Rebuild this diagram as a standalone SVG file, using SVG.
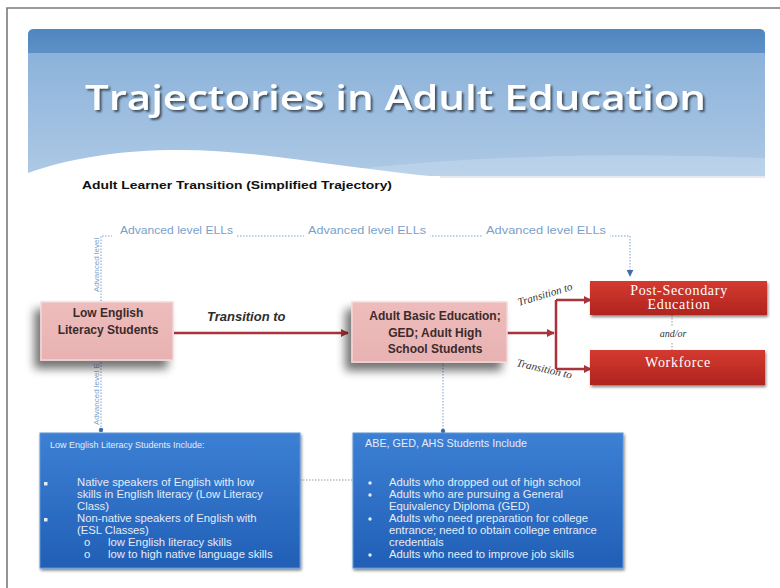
<svg xmlns="http://www.w3.org/2000/svg" width="780" height="588" viewBox="0 0 780 588">
<defs>
<style>
.ttl{font-family:"Open Sans","Liberation Sans",sans-serif;font-weight:600;fill:#ffffff}
.sub{font-family:"Liberation Sans",Arial,sans-serif;font-weight:bold;font-size:10.5px;fill:#111}
.adv{font-family:"Liberation Sans",Arial,sans-serif;font-size:10px;fill:#7b9fca}
.advv{font-family:"Liberation Sans",Arial,sans-serif;font-size:8px;fill:#7b9fca}
.pk{font-family:"Liberation Sans",Arial,sans-serif;font-weight:bold;font-size:12px;fill:#3b2b2b;text-anchor:middle}
.tr{font-family:"Liberation Sans",Arial,sans-serif;font-weight:bold;font-style:italic;font-size:13px;fill:#2e2e2e}
.trs{font-family:"Liberation Serif","Times New Roman",serif;font-style:italic;font-size:11px;fill:#333}
.rd{font-family:"Liberation Serif","Times New Roman",serif;font-size:14px;letter-spacing:0.7px;fill:#ffffff;text-anchor:middle}
.bt{font-family:"Liberation Sans",Arial,sans-serif;font-size:11.3px;fill:#e4ecf8}
.bh{font-family:"Liberation Sans",Arial,sans-serif;fill:#e4ecf8}
.dot{fill:none;stroke:#7b9fca;stroke-width:1;stroke-dasharray:1.5 1.5}
.gdot{fill:none;stroke:#9a9a9a;stroke-width:1;stroke-dasharray:1.5 1.5}
.red{fill:none;stroke:#a8333a;stroke-width:2.5}
</style>
<linearGradient id="bannerG" x1="0" y1="0" x2="0" y2="1">
<stop offset="0" stop-color="#86aed8"/><stop offset="1" stop-color="#adc9e5"/>
</linearGradient>
<linearGradient id="stripG" x1="0" y1="0" x2="0" y2="1">
<stop offset="0" stop-color="#4f86c0"/><stop offset="1" stop-color="#5d91c6"/>
</linearGradient>
<linearGradient id="pinkG" x1="0" y1="0" x2="0" y2="1">
<stop offset="0" stop-color="#eebcbc"/><stop offset="1" stop-color="#e8b2b2"/>
</linearGradient>
<linearGradient id="redG" x1="0" y1="0" x2="0" y2="1">
<stop offset="0" stop-color="#d43a30"/><stop offset="1" stop-color="#b0241e"/>
</linearGradient>
<linearGradient id="blueG" x1="0" y1="0" x2="0" y2="1">
<stop offset="0" stop-color="#3c80d4"/><stop offset="1" stop-color="#215fb6"/>
</linearGradient>
<filter id="pinkSh" x="-30%" y="-30%" width="160%" height="170%">
<feGaussianBlur in="SourceAlpha" stdDeviation="5"/>
<feOffset dx="-6" dy="8" result="b"/>
<feComponentTransfer><feFuncA type="linear" slope="0.55"/></feComponentTransfer>
<feMerge><feMergeNode/><feMergeNode in="SourceGraphic"/></feMerge>
</filter>
<filter id="boxSh" x="-10%" y="-20%" width="120%" height="150%">
<feGaussianBlur in="SourceAlpha" stdDeviation="1.5"/>
<feOffset dx="1" dy="2"/>
<feComponentTransfer><feFuncA type="linear" slope="0.5"/></feComponentTransfer>
<feMerge><feMergeNode/><feMergeNode in="SourceGraphic"/></feMerge>
</filter>
<filter id="txtSh" x="-5%" y="-20%" width="110%" height="150%">
<feGaussianBlur in="SourceAlpha" stdDeviation="1.2"/>
<feOffset dx="1.5" dy="2"/>
<feComponentTransfer><feFuncA type="linear" slope="0.6"/></feComponentTransfer>
<feMerge><feMergeNode/><feMergeNode in="SourceGraphic"/></feMerge>
</filter>
<marker id="ra" viewBox="0 0 10 10" refX="9" refY="5" markerWidth="3.2" markerHeight="3.2" orient="auto" markerUnits="strokeWidth">
<path d="M0,0 L10,5 L0,10 Z" fill="#a8333a"/>
</marker>
<marker id="ba" viewBox="0 0 10 10" refX="9" refY="5" markerWidth="7" markerHeight="7" orient="auto" markerUnits="userSpaceOnUse">
<path d="M0,0 L10,5 L0,10 Z" fill="#3e6da8"/>
</marker>
</defs>

<rect width="780" height="588" fill="#ffffff"/>
<path d="M7,588 V8 H780" fill="none" stroke="#7a7a7a" stroke-width="1.6"/>

<g id="banner">
<path d="M28,176 V35 Q28,29 34,29 H759 Q765,29 765,35 V176 Z" fill="url(#bannerG)"/>
<path d="M28,53 V35 Q28,29 34,29 H759 Q765,29 765,35 V53 Z" fill="url(#stripG)"/>
<path d="M300,176 C420,160 560,150 765,158 V176 Z" fill="#ffffff" opacity="0.18"/>
<path d="M28,177 V173 C70,158 120,150 180,150 C260,150 340,168 440,177 Z" fill="#ffffff"/>
<path d="M440,177 H765" stroke="#c9d6e2" stroke-width="1.2"/>
<text class="ttl" x="85" y="110" font-size="35" textLength="621" lengthAdjust="spacingAndGlyphs" filter="url(#txtSh)">Trajectories in Adult Education</text>
</g>

<text class="sub" x="82" y="189" textLength="310" lengthAdjust="spacingAndGlyphs">Adult Learner Transition (Simplified Trajectory)</text>

<g id="connectors">
<path class="dot" d="M101,430 V236 H630 V276" marker-end="url(#ba)"/>
<circle cx="101" cy="430" r="2.2" fill="#3e6da8"/>
<path class="dot" d="M443,362 V430"/>
<circle cx="443" cy="431" r="2.2" fill="#3e6da8"/>
<path class="gdot" d="M300,480 H353"/>
<path class="gdot" d="M672,315 V326 M672,343 V350"/>
<path class="red" d="M174,333 H348" marker-end="url(#ra)"/>
<path class="red" d="M507,333 H554" marker-end="url(#ra)"/>
<path class="red" d="M556,300 V369"/>
<path class="red" d="M556,300 H591" marker-end="url(#ra)"/>
<path class="red" d="M556,369 H591" marker-end="url(#ra)"/>
<rect x="112" y="230" width="124" height="10" fill="#ffffff"/>
<text class="adv" x="120" y="234" textLength="113" lengthAdjust="spacingAndGlyphs">Advanced level ELLs</text>
<rect x="304" y="230" width="126" height="10" fill="#ffffff"/>
<text class="adv" x="308" y="234" textLength="118" lengthAdjust="spacingAndGlyphs">Advanced level ELLs</text>
<rect x="482" y="230" width="128" height="10" fill="#ffffff"/>
<text class="adv" x="486" y="234" textLength="120" lengthAdjust="spacingAndGlyphs">Advanced level ELLs</text>
<text class="advv" transform="translate(99,292) rotate(-90)">Advanced level</text>
<text class="advv" transform="translate(99,425) rotate(-90)">Advanced level E</text>
<text class="tr" x="207" y="321">Transition to</text>
<text class="trs" transform="translate(519,306) rotate(-17)">Transition to</text>
<text class="trs" transform="translate(516,366) rotate(13)">Transition to</text>
<text class="trs" x="673" y="337" text-anchor="middle" style="font-size:10px">and/or</text>
</g>

<g id="low-english">
<rect x="41" y="302" width="132" height="58" fill="url(#pinkG)" stroke="#f6d6d6" stroke-width="1.5" filter="url(#pinkSh)"/>
<text class="pk" x="108" y="317">Low English</text>
<text class="pk" x="108" y="334">Literacy Students</text>
</g>

<g id="abe-ged">
<rect x="352" y="302" width="155" height="60" fill="url(#pinkG)" stroke="#f6d6d6" stroke-width="1.5" filter="url(#pinkSh)"/>
<text class="pk" x="435" y="320">Adult Basic Education;</text>
<text class="pk" x="435" y="337">GED; Adult High</text>
<text class="pk" x="435" y="353">School Students</text>
</g>

<g id="post-secondary">
<rect x="590" y="281" width="177" height="34" fill="url(#redG)" filter="url(#boxSh)"/>
<text class="rd" x="679" y="295">Post-Secondary</text>
<text class="rd" x="679" y="309">Education</text>
</g>

<g id="workforce">
<rect x="590" y="350" width="175" height="35" fill="url(#redG)" filter="url(#boxSh)"/>
<text class="rd" x="678" y="367">Workforce</text>
</g>

<g id="low-english-include">
<rect x="40" y="433" width="260" height="135" fill="url(#blueG)" stroke="#5a95dc" stroke-width="1" filter="url(#boxSh)"/>
<text class="bh" x="50" y="448" style="font-size:9px">Low English Literacy Students Include:</text>
<rect x="44" y="482" width="3.5" height="3.5" fill="#e4ecf8"/>
<text class="bt" x="77" y="486">Native speakers of English with low</text>
<text class="bt" x="77" y="498">skills in  English literacy (Low Literacy</text>
<text class="bt" x="77" y="510">Class)</text>
<rect x="44" y="518" width="3.5" height="3.5" fill="#e4ecf8"/>
<text class="bt" x="77" y="522">Non-native speakers of English with</text>
<text class="bt" x="77" y="534">(ESL Classes)</text>
<text class="bt" x="84" y="546">o</text>
<text class="bt" x="108" y="546">low English literacy skills</text>
<text class="bt" x="84" y="558">o</text>
<text class="bt" x="108" y="558">low to high native language skills</text>
</g>

<g id="abe-include">
<rect x="353" y="433" width="270" height="135" fill="url(#blueG)" stroke="#5a95dc" stroke-width="1" filter="url(#boxSh)"/>
<text class="bh" x="365" y="447" style="font-size:10.8px">ABE, GED, AHS Students Include</text>
<circle cx="370" cy="483" r="1.7" fill="#e4ecf8"/>
<text class="bt" x="389" y="486">Adults who dropped out of high school</text>
<circle cx="370" cy="495" r="1.7" fill="#e4ecf8"/>
<text class="bt" x="389" y="498">Adults who are pursuing a General</text>
<text class="bt" x="389" y="510">Equivalency Diploma (GED)</text>
<circle cx="370" cy="519" r="1.7" fill="#e4ecf8"/>
<text class="bt" x="389" y="522">Adults who need preparation for college</text>
<text class="bt" x="389" y="534">entrance; need to obtain college entrance</text>
<text class="bt" x="389" y="546">credentials</text>
<circle cx="370" cy="555" r="1.7" fill="#e4ecf8"/>
<text class="bt" x="389" y="558">Adults who need to improve job skills</text>
</g>
</svg>
